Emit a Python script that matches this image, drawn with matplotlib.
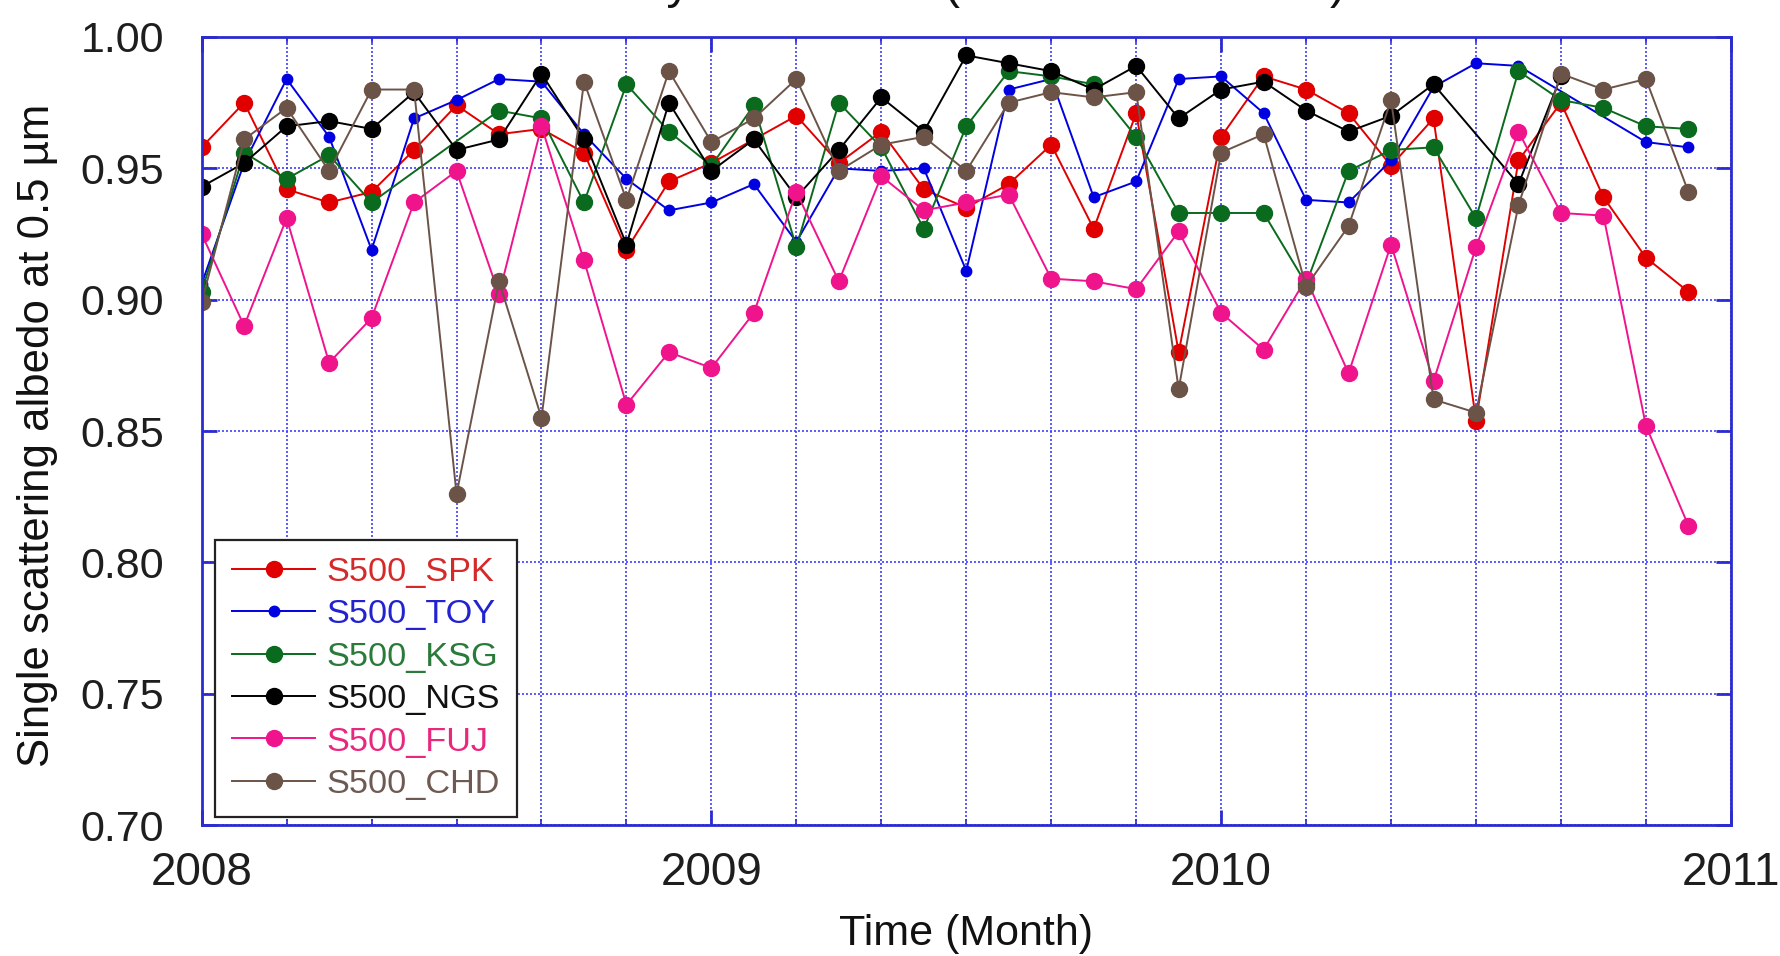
import numpy as np
import matplotlib
matplotlib.use("Agg")
import matplotlib.pyplot as plt
from matplotlib import font_manager
from matplotlib.ticker import MultipleLocator, FixedLocator

plt.rcParams['font.family'] = ['Liberation Sans', 'DejaVu Sans']

# ---------------- data (monthly, Jan 2008 .. Dec 2010) ----------------
months = [2008 + i / 12 for i in range(36)]

spk = [0.958, 0.975, 0.942, 0.937, 0.941, 0.957, 0.974, 0.963, 0.965, 0.956, 0.919, 0.945,
       0.952, 0.961, 0.970, 0.952, 0.964, 0.942, 0.935, 0.944, 0.959, 0.927, 0.971, 0.880,
       0.962, 0.985, 0.980, 0.971, 0.951, 0.969, 0.854, 0.953, 0.975, 0.939, 0.916, 0.903]
toy = [0.906, 0.952, 0.984, 0.962, 0.919, 0.969, 0.976, 0.984, 0.983, 0.963, 0.946, 0.934,
       0.937, 0.944, 0.922, 0.950, 0.949, 0.950, 0.911, 0.980, 0.984, 0.939, 0.945, 0.984,
       0.985, 0.971, 0.938, 0.937, 0.953, 0.981, 0.990, 0.989, None, None, 0.960, 0.958]
ksg = [0.903, 0.956, 0.946, 0.955, 0.937, None, None, 0.972, 0.969, 0.937, 0.982, 0.964,
       0.951, 0.974, 0.920, 0.975, 0.958, 0.927, 0.966, 0.987, 0.985, 0.982, 0.962, 0.933,
       0.933, 0.933, 0.906, 0.949, 0.957, 0.958, 0.931, 0.987, 0.976, 0.973, 0.966, 0.965]
ngs = [0.943, 0.952, 0.966, 0.968, 0.965, 0.979, 0.957, 0.961, 0.986, 0.961, 0.921, 0.975,
       0.949, 0.961, 0.939, 0.957, 0.977, 0.964, 0.993, 0.990, 0.987, 0.980, 0.989, 0.969,
       0.980, 0.983, 0.972, 0.964, 0.970, 0.982, None, 0.944, 0.985, None, None, None]
fuj = [0.925, 0.890, 0.931, 0.876, 0.893, 0.937, 0.949, 0.902, 0.966, 0.915, 0.860, 0.880,
       0.874, 0.895, 0.941, 0.907, 0.947, 0.934, 0.937, 0.940, 0.908, 0.907, 0.904, 0.926,
       0.895, 0.881, 0.908, 0.872, 0.921, 0.869, 0.920, 0.964, 0.933, 0.932, 0.852, 0.814]
chd = [0.899, 0.961, 0.973, 0.949, 0.980, 0.980, 0.826, 0.907, 0.855, 0.983, 0.938, 0.987,
       0.960, 0.969, 0.984, 0.949, 0.959, 0.962, 0.949, 0.975, 0.979, 0.977, 0.979, 0.866,
       0.956, 0.963, 0.905, 0.928, 0.976, 0.862, 0.857, 0.936, 0.986, 0.980, 0.984, 0.941]

names = ['S500_SPK', 'S500_TOY', 'S500_KSG', 'S500_NGS', 'S500_FUJ', 'S500_CHD']
series = [spk, toy, ksg, ngs, fuj, chd]
colors = ['#e00000', '#0000e0', '#0a6a1e', '#000000', '#f0148c', '#6c5348']
text_colors = ['#d42a2a', '#2222d0', '#2a7a3a', '#111111', '#e8287f', '#6e5a52']
msizes = [11.5, 7.5, 11.5, 11.5, 11.5, 11.5]

year_ticks = [2008, 2009, 2010, 2011]
year_labels = ['2008', '2009', '2010', '2011']
y_ticks = [0.70, 0.75, 0.80, 0.85, 0.90, 0.95, 1.00]

# ---------------- figure ----------------
fig = plt.figure(figsize=(17.8, 9.56), dpi=100)
ax = fig.add_axes([0.1133, 0.1370, 0.8591, 0.8243])

x = np.array(months)
for vals, name, c, ms in zip(series, names, colors, msizes):
    y = np.array([np.nan if v is None else v for v in vals], dtype=float)
    m = ~np.isnan(y)
    ax.plot(x[m], y[m], '-', color=c, lw=1.4, marker='o', ms=ms,
            mec=c, mfc=c, label=name)

ax.set_xlim(2008, 2011)
ax.set_ylim(0.70, 1.00)

grid_blue = '#4040ff'
spine_blue = '#2b2bd0'

ax.xaxis.set_major_locator(FixedLocator(year_ticks))
ax.set_xticklabels(year_labels)
ax.xaxis.set_minor_locator(MultipleLocator(1 / 6))
ax.set_yticks(y_ticks)
ax.set_yticklabels([f'{v:.2f}' for v in y_ticks])

ax.grid(True, which='both', color=grid_blue, linestyle=(0, (1.2, 1.2)), lw=1.2)
ax.set_axisbelow(True)

for s in ax.spines.values():
    s.set_color(spine_blue)
    s.set_linewidth(2.0)

avail = {f.name for f in font_manager.fontManager.ttflist}
if 'Liberation Sans Narrow' in avail:
    xt_font, xt_size = 'Liberation Sans Narrow', 38
else:
    xt_font, xt_size = 'Liberation Sans', 33

ax.tick_params(axis='both', which='major', direction='in', color=spine_blue,
               width=2, length=11, top=True, right=True, labelcolor='#1e1e1e')
ax.tick_params(axis='x', which='minor', direction='in', color=spine_blue,
               width=1.2, length=4, top=True, bottom=True)
ax.tick_params(axis='y', which='major', labelsize=31, pad=27)
ax.tick_params(axis='x', which='major', labelsize=xt_size, pad=19)
for lab in ax.get_xticklabels():
    lab.set_fontfamily([xt_font, 'Liberation Sans'])

ax.set_xlabel('Time (Month)', fontsize=31, color='#111111')
ax.xaxis.set_label_coords(0.5, -0.113)
ax.set_ylabel('Single scattering albedo at 0.5 µm', fontsize=31.5, color='#111111')
ax.yaxis.set_label_coords(-0.094, 0.494)

leg = ax.legend(loc='lower left', bbox_to_anchor=(0.0087, 0.0102), borderaxespad=0,
                fontsize=24.7, frameon=True, fancybox=False, edgecolor='#222222',
                handlelength=2.42, handletextpad=0.33, labelspacing=0.33,
                borderpad=0.5, framealpha=1.0)
leg.get_frame().set_linewidth(1.6)
for t, c in zip(leg.get_texts(), text_colors):
    t.set_color(c)

# title, mostly cut off at the top edge as in the reference
fig.text(522 / 1780, 1.002, 'Monthly mean SSA (SKYNET stations)', fontsize=34.6,
         ha='left', va='baseline', color='#111111')

fig.savefig('out.png', dpi=100)
